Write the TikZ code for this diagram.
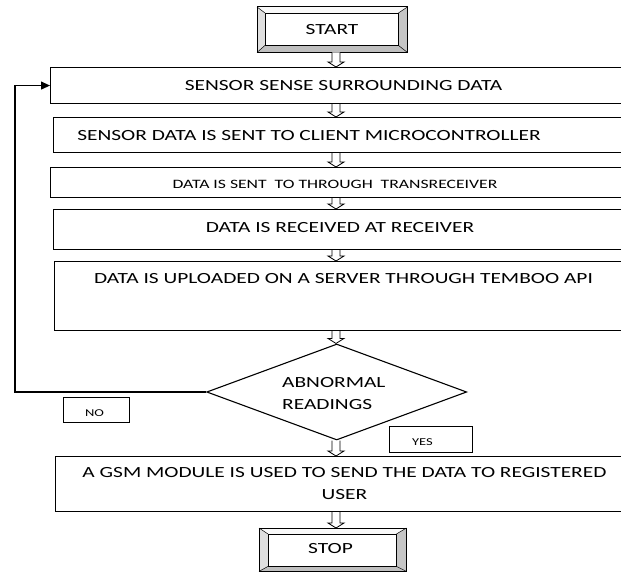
\documentclass[tikz,border=0pt]{standalone}
\usepackage{fontspec}
\setmainfont{Carlito}
\usepackage{graphicx}
\usetikzlibrary{shapes.geometric,calc,arrows.meta}
\newcommand{\stx}[1]{\scalebox{1.38}[1]{#1}}
\newcommand{\harrow}[2]{%
  \draw[harr] let \p1=(#1.south -| ax), \p2=(#2.north -| ax) in
    (\x1-4pt,\y1) -- (\x1-4pt,\y2+5pt) -- (\x1-8pt,\y2+5pt) -- (\x1,\y2)
    -- (\x1+8pt,\y2+5pt) -- (\x1+4pt,\y2+5pt) -- (\x1+4pt,\y1);}
\newcommand{\bevelframe}[2]{%
  \fill[gray!5]  (#1.north west) -- (#1.north east) -- (#2.north east) -- (#2.north west) -- cycle;
  \fill[gray!25] (#1.north west) -- (#1.south west) -- (#2.south west) -- (#2.north west) -- cycle;
  \fill[gray!45] (#1.north east) -- (#1.south east) -- (#2.south east) -- (#2.north east) -- cycle;
  \fill[gray!50] (#1.south west) -- (#1.south east) -- (#2.south east) -- (#2.south west) -- cycle;
  \draw[line width=1pt] (#1.north west) rectangle (#1.south east);
  \draw[line width=0.9pt] (#2.north west) rectangle (#2.south east);
  \draw[line width=0.5pt] (#1.north west) -- (#2.north west) (#1.north east) -- (#2.north east)
    (#1.south west) -- (#2.south west) (#1.south east) -- (#2.south east);}
\begin{document}
\begin{tikzpicture}[x=1pt,y=-1pt,
  box/.style={draw, line width=1.1pt, rectangle, inner sep=0pt, anchor=north west},
  frame/.style={rectangle, inner sep=0pt, anchor=north west},
  txt/.style={inner sep=0pt, font=\fontsize{15.5}{22}\selectfont},
  smalltxt/.style={inner sep=0pt, font=\fontsize{12.8}{16}\selectfont},
  tinytxt/.style={inner sep=0pt, font=\fontsize{10.5}{12}\selectfont},
  harr/.style={draw, line width=0.8pt, fill=white},
  ]
\useasboundingbox (0,0) rectangle (621,572);
\fill[white] (0,0) rectangle (621,572);
\clip (0,0) rectangle (621,572);
\coordinate (ax) at (336,0);

% START
\node[frame, minimum width=150pt, minimum height=45pt] (so) at (257,7) {};
\node[frame, minimum width=133pt, minimum height=32pt] (si) at (265,13) {};
\bevelframe{so}{si}
\node[txt] (tstart) at (332,29.5) {\stx{START}};

% process boxes
\node[box, minimum width=590pt, minimum height=36pt] (b1) at (50,67) {};
\node[txt] (t1) at (343.5,86) {\stx{SENSOR SENSE SURROUNDING DATA}};
\node[box, minimum width=587pt, minimum height=35pt] (b2) at (53,117) {};
\node[txt] (t2) at (309,136) {\stx{SENSOR DATA IS SENT TO CLIENT MICROCONTROLLER}};
\node[box, minimum width=590pt, minimum height=30pt] (b3) at (50,167) {};
\node[smalltxt] (t3) at (335,184) {\stx{DATA IS SENT\ \ TO THROUGH\ \ TRANSRECEIVER}};
\node[box, minimum width=587pt, minimum height=40pt] (b4) at (53,209) {};
\node[txt] (t4) at (340,228) {\stx{DATA IS RECEIVED AT RECEIVER}};
\node[box, minimum width=586pt, minimum height=69pt] (b5) at (54,261) {};
\node[txt] (t5) at (343.5,279) {\stx{DATA IS UPLOADED ON A SERVER THROUGH TEMBOO API}};

% decision
\node[draw, diamond, line width=1.1pt, minimum width=260pt, minimum height=96pt, inner sep=0pt] (dec) at (336.7,392) {};
\node[txt, align=left, anchor=west] (tdec) at (282,394) {\stx{ABNORMAL}\\\stx{READINGS}};
\node[box, line width=1pt, minimum width=66pt, minimum height=25pt] (nob) at (63,397) {};
\node[tinytxt] (tno) at (94.5,412.7) {\stx{NO}};
\node[box, line width=1pt, minimum width=83pt, minimum height=26pt] (yesb) at (389,426) {};
\node[tinytxt] (tyes) at (422.5,442) {\stx{YES}};

% GSM
\node[box, minimum width=585pt, minimum height=55pt] (b6) at (55,456) {};
\node[txt, align=center] (t6) at (344.5,484) {\stx{A GSM MODULE IS USED TO SEND THE DATA TO REGISTERED}\\\stx{USER}};

% STOP
\node[frame, minimum width=147pt, minimum height=43pt] (po) at (259,528) {};
\node[frame, minimum width=128pt, minimum height=32pt] (pi) at (268,534) {};
\bevelframe{po}{pi}
\node[txt] (tstop) at (330.5,549) {\stx{STOP}};

% connectors
\harrow{so}{b1}
\harrow{b1}{b2}
\harrow{b2}{b3}
\harrow{b3}{b4}
\harrow{b4}{b5}
\harrow{b5}{dec}
\harrow{dec}{b6}
\harrow{b6}{po}
\coordinate (fb) at (15,392);
\draw[line width=1.1pt, -{Triangle[length=9pt,width=8pt]}] (dec.west) -- (fb) |- (b1.west);
\end{tikzpicture}
\end{document}
